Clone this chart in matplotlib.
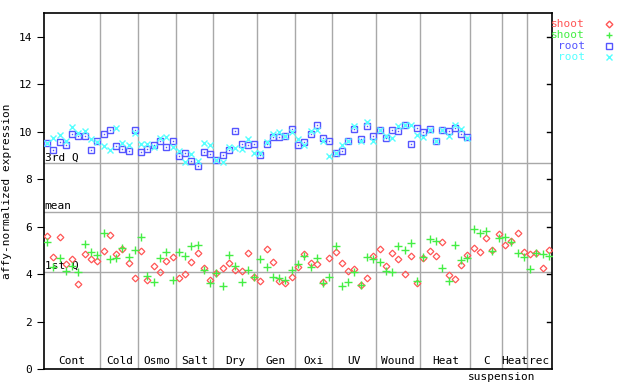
# affy-normalized expression, shoot vs root, grouped by treatment

import numpy as np
from matplotlib import pyplot as plt

# treatment groups (label, number of samples)
groups = ["Cont", "Cold", "Osmo", "Salt", "Dry", "Gen", "Oxi", "UV", "Wound",
          "Heat", "C", "Heat", "rec"]
group_sizes = [9, 6, 6, 6, 7, 6, 6, 7, 7, 8, 5, 4, 4]

shoot_red = [5.61, 4.72, 5.57, 4.43, 4.64, 3.58, 4.85, 4.64, 4.55,
             4.98, 5.65, 4.85, 5.06, 4.47, 3.84,
             4.98, 3.75, 4.34, 4.09, 4.55, 4.72,
             3.84, 4.01, 4.51, 4.89, 4.26, 3.75,
             4.05, 4.26, 4.47, 4.18, 4.13, 4.89, 3.88,
             3.71, 5.06, 4.51, 3.71, 3.63, 3.88,
             4.30, 4.85, 4.47, 4.43, 3.67, 4.68,
             4.93, 4.47, 4.13, 4.22, 3.54, 3.84, 4.77,
             5.06, 4.34, 4.89, 4.64, 4.01, 4.77, 3.63,
             4.68, 4.98, 4.77, 5.36, 3.96, 3.80, 4.39, 4.81,
             5.10, 4.93, 5.53, 5.02, 5.69,
             5.23, 5.40, 5.74, 4.93,
             4.85, 4.89, 4.26, 5.02]

shoot_green = [5.36, 4.30, 4.68, 4.13, 4.34, 4.09, 5.27, 4.93, 4.81,
               5.74, 4.64, 4.68, 5.10, 4.72, 5.02,
               5.57, 3.92, 3.67, 4.68, 4.93, 3.75,
               4.93, 4.77, 5.19, 5.23, 4.18, 3.63,
               4.05, 3.50, 4.81, 4.34, 3.67, 4.18, 3.88,
               4.64, 4.30, 3.88, 3.84, 3.75, 4.18,
               4.43, 4.77, 4.30, 4.68, 3.63, 3.88,
               5.19, 3.50, 3.67, 4.09, 3.54, 4.72, 4.64,
               4.51, 4.13, 4.09, 5.19, 5.02, 5.31, 3.71,
               4.72, 5.48, 5.40, 4.26, 3.71, 5.23, 4.60, 4.68,
               5.90, 5.74, 5.82, 4.98, 5.53,
               5.57, 5.36, 4.89, 4.72,
               4.22, 4.89, 4.85, 4.77]

# root has no samples for the last three groups
root_blue = [9.52, 9.24, 9.57, 9.45, 9.91, 9.83, 9.80, 9.24, 9.62,
             9.91, 10.08, 9.41, 9.28, 9.19, 10.08,
             9.15, 9.28, 9.45, 9.62, 9.36, 9.62,
             8.98, 9.11, 8.77, 8.56, 9.15, 9.07,
             8.81, 9.02, 9.24, 10.04, 9.49, 9.45, 9.49,
             9.02, 9.49, 9.78, 9.78, 9.83, 10.12,
             9.45, 9.57, 9.91, 10.29, 9.74, 9.62,
             9.11, 9.19, 9.62, 10.12, 9.70, 10.25, 9.83,
             10.08, 9.74, 10.08, 10.04, 10.29, 9.49, 10.16,
             10.00, 10.12, 9.62, 10.08, 10.04, 10.16, 9.91, 9.78]

root_cyan = [9.52, 9.74, 9.87, 9.62, 10.21, 9.95, 10.04, 9.70, 9.57,
             9.41, 9.24, 10.16, 9.53, 9.45, 9.95,
             9.49, 9.49, 9.36, 9.74, 9.78, 9.36,
             9.19, 8.73, 9.07, 8.77, 9.53, 9.45,
             8.81, 8.73, 9.36, 9.32, 9.28, 9.70, 9.11,
             9.11, 9.57, 9.91, 10.00, 9.83, 10.00,
             9.70, 9.45, 10.04, 10.08, 9.62, 8.98,
             9.11, 9.45, 9.62, 10.25, 9.62, 10.42, 9.62,
             10.08, 9.83, 9.74, 10.25, 10.29, 10.29, 9.87,
             9.78, 10.05, 9.62, 10.08, 9.83, 10.29, 10.12, 9.74]

third_q = 8.69
mean_val = 6.62
first_q = 4.10

n = sum(group_sizes)
x = np.arange(n) + 0.5
x_root = np.arange(len(root_blue)) + 0.5

red = "#ff5555"
green = "#44ee44"
blue = "#5555ff"
cyan = "#55ffff"
grey = "#a8a8a8"
mono = "DejaVu Sans Mono"
fs = 8

fig = plt.figure(figsize=(6.4, 3.84), dpi=100)
ax = fig.add_axes([44 / 640, 15 / 384, 508 / 640, 356 / 384])

# group separators and reference lines
bounds = np.cumsum(group_sizes)[:-1]
for b in bounds:
    ax.axvline(b, color=grey, lw=1, zorder=1)
for yv in [third_q, mean_val, first_q]:
    ax.axhline(yv, color=grey, lw=1, zorder=1)

ax.text(0.1, third_q + 0.02, "3rd Q", fontsize=fs, family=mono, va="bottom")
ax.text(0.1, mean_val + 0.02, "mean", fontsize=fs, family=mono, va="bottom")
ax.text(0.1, first_q + 0.02, "1st Q", fontsize=fs, family=mono, va="bottom")

# the points
ax.plot(x, shoot_red, ls="none", marker="D", ms=3.4, mfc="none", mec=red, mew=0.9, zorder=3)
ax.plot(x, shoot_green, ls="none", marker="+", ms=6, mec=green, mew=1.0, zorder=3)
ax.plot(x_root, root_blue, ls="none", marker="s", ms=4.4, mfc="none", mec=blue, mew=1.0, zorder=3)
ax.plot(x_root, root_blue, ls="none", marker="s", ms=1.0, mfc=blue, mec=blue, mew=0, zorder=3)
ax.plot(x_root, root_cyan, ls="none", marker="x", ms=4.4, mec=cyan, mew=1.0, zorder=3)

ax.set_xlim(0, n)
ax.set_ylim(0, 15)
ax.set_xticks([])
ax.set_yticks(range(0, 15, 2))
ax.tick_params(axis="y", labelsize=fs, length=5, direction="out", right=False)
for lab in ax.get_yticklabels():
    lab.set_family(mono)
for yt in range(0, 15, 2):
    ax.plot([n - 0.85, n], [yt, yt], color="black", lw=1, zorder=4)
for s in ax.spines.values():
    s.set_linewidth(1.2)

ax.set_ylabel("affy-normalized expression", fontsize=fs, family=mono)
ax.yaxis.set_label_coords(-0.063, 0.5)

# group labels along the bottom
starts = np.concatenate([[0], bounds])
for g, s0, sz in zip(groups, starts, group_sizes):
    ax.text(s0 + sz / 2, 0.12, g, ha="center", va="bottom", fontsize=fs, family=mono)
ax.text(bounds[10], -0.33, "suspension", ha="center", va="center", fontsize=fs, family=mono)

# legend, drawn by hand at the top right
leg_labels = ["shoot", "shoot", "root", "root"]
leg_colors = [red, green, blue, cyan]
leg_markers = ["D", "+", "s", "x"]
for k in range(4):
    yy = 1 - (23.7 + 11 * k) / 384
    fig.text(585 / 640, yy, leg_labels[k], color=leg_colors[k], ha="right", va="center",
             fontsize=fs, family=mono)
    ms = 4.4 if leg_markers[k] != "D" else 3.4
    fig.lines.append(plt.Line2D([609 / 640], [yy], transform=fig.transFigure, ls="none",
                                marker=leg_markers[k], ms=ms, mfc="none", mec=leg_colors[k], mew=1.0))

plt.savefig("out.png", dpi=100)
